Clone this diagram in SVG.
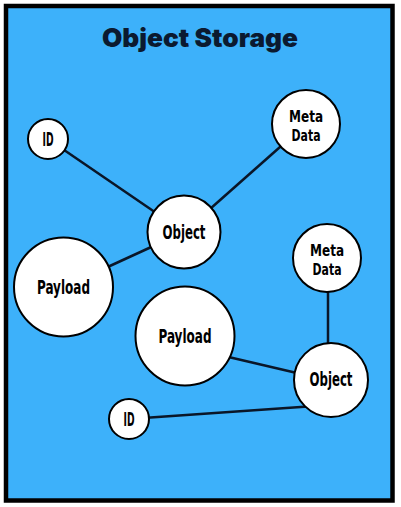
<svg xmlns="http://www.w3.org/2000/svg" width="401" height="507" viewBox="0 0 401 507">
<style>
.n{fill:#fff;stroke:#000;stroke-width:2}
.t{font-family:"DejaVu Sans",sans-serif;font-weight:bold;font-stretch:condensed;font-size:19px;fill:#000;text-anchor:middle}
.m{font-size:16.5px}
.c line{stroke:#0a1628;stroke-width:2.5}
</style>
<rect x="0" y="0" width="401" height="507" fill="#fff"/>
<rect x="6" y="6" width="386.5" height="494.5" fill="#3db1fa" stroke="#000" stroke-width="4.5"/>
<text x="200" y="47" font-family="Inter,sans-serif" font-weight="900" font-size="26" fill="#0b1a30" text-anchor="middle" textLength="196" lengthAdjust="spacingAndGlyphs">Object Storage</text>
<g class="c">
<line x1="48" y1="139" x2="184" y2="232"/>
<line x1="306" y1="124" x2="184" y2="232"/>
<line x1="64" y1="287" x2="184" y2="232"/>
<line x1="328" y1="258" x2="328" y2="380"/>
<line x1="220" y1="355" x2="331" y2="381"/>
<line x1="129" y1="419" x2="315" y2="406"/>
</g>
<g id="id1"><circle class="n" cx="48" cy="139" r="20"/><text class="t" x="48" y="145.5" textLength="11" lengthAdjust="spacingAndGlyphs">ID</text></g>
<g id="meta1"><circle class="n" cx="306" cy="124" r="34"/><text class="t m" x="306" y="122" textLength="34" lengthAdjust="spacingAndGlyphs">Meta</text><text class="t m" x="306" y="141" textLength="29" lengthAdjust="spacingAndGlyphs">Data</text></g>
<g id="object1"><circle class="n" cx="184" cy="232" r="36.5"/><text class="t" x="184" y="238.5" textLength="43" lengthAdjust="spacingAndGlyphs">Object</text></g>
<g id="payload1"><circle class="n" cx="63.5" cy="287" r="49.5"/><text class="t" x="63.5" y="293.5" textLength="53" lengthAdjust="spacingAndGlyphs">Payload</text></g>
<g id="meta2"><circle class="n" cx="327" cy="258" r="34"/><text class="t m" x="327" y="256" textLength="34" lengthAdjust="spacingAndGlyphs">Meta</text><text class="t m" x="327" y="275" textLength="29" lengthAdjust="spacingAndGlyphs">Data</text></g>
<g id="payload2"><circle class="n" cx="185" cy="336" r="49.5"/><text class="t" x="185" y="342.5" textLength="53" lengthAdjust="spacingAndGlyphs">Payload</text></g>
<g id="object2"><circle class="n" cx="331" cy="380" r="37"/><text class="t" x="331" y="386" textLength="43" lengthAdjust="spacingAndGlyphs">Object</text></g>
<g id="id2"><circle class="n" cx="129" cy="419" r="20"/><text class="t" x="129" y="425.5" textLength="11" lengthAdjust="spacingAndGlyphs">ID</text></g>
</svg>
